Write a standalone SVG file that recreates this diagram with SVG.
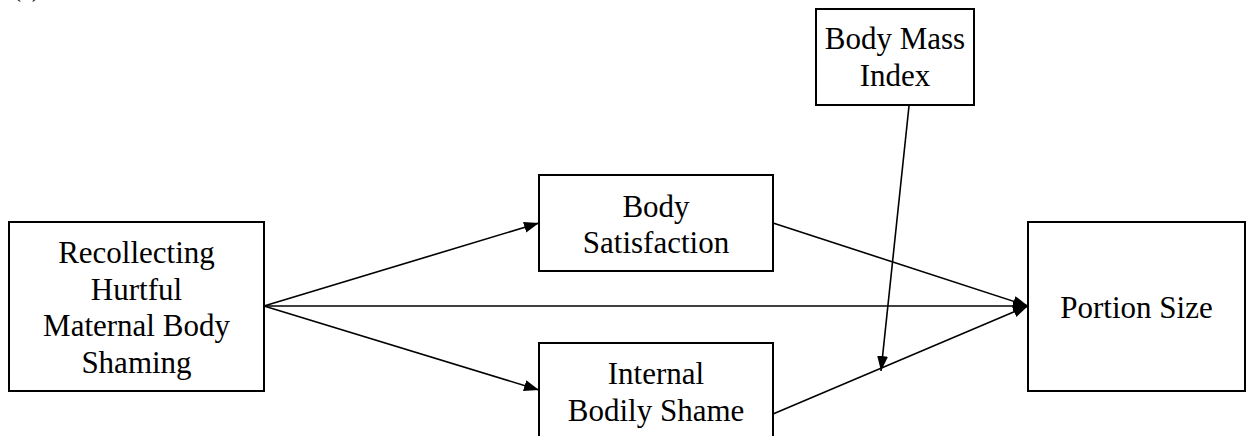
<svg xmlns="http://www.w3.org/2000/svg" width="1246" height="436" viewBox="0 0 1246 436">
<defs>
<marker id="ah" markerUnits="userSpaceOnUse" markerWidth="16" markerHeight="12" refX="15" refY="5.5" orient="auto">
<path d="M0,0 L15,5.5 L0,11 Z" fill="#000"/>
</marker>
<style>
.box{fill:#fff;stroke:#000;stroke-width:2}
.t{font-size:31px;fill:#000;text-anchor:middle}
.c{stroke:#000;stroke-width:1.6;fill:none;marker-end:url(#ah)}
</style>
</defs>
<rect width="1246" height="436" fill="#fff"/>
<g font-family="'Liberation Serif', 'Times New Roman', serif">
<text x="13" y="-3" font-size="24">(a)</text>
<g id="connectors">
<line class="c" x1="264" y1="306" x2="539" y2="223"/>
<line class="c" x1="264" y1="306" x2="539" y2="390"/>
<line class="c" x1="264" y1="306" x2="1028" y2="306"/>
<line class="c" x1="773" y1="223" x2="1028" y2="306"/>
<line class="c" x1="773" y1="414" x2="1028" y2="306"/>
<line class="c" x1="909" y1="106" x2="881" y2="371"/>
</g>
<g id="recollecting">
<rect class="box" x="9" y="222" width="255" height="169"/>
<text class="t" x="136.5" y="263">Recollecting</text>
<text class="t" x="136.5" y="299.5">Hurtful</text>
<text class="t" x="136.5" y="336">Maternal Body</text>
<text class="t" x="136.5" y="372.5">Shaming</text>
</g>
<g id="body-satisfaction">
<rect class="box" x="539" y="175" width="234" height="96"/>
<text class="t" x="656" y="216.5">Body</text>
<text class="t" x="656" y="252.5">Satisfaction</text>
</g>
<g id="internal-shame">
<rect class="box" x="539" y="343" width="234" height="100"/>
<text class="t" x="656" y="383.5">Internal</text>
<text class="t" x="656" y="420.5">Bodily Shame</text>
</g>
<g id="bmi">
<rect class="box" x="816" y="9" width="158" height="96"/>
<text class="t" x="895" y="49">Body Mass</text>
<text class="t" x="895" y="86">Index</text>
</g>
<g id="portion-size">
<rect class="box" x="1028" y="222" width="217" height="169"/>
<text class="t" x="1136.5" y="318">Portion Size</text>
</g>
</g>
</svg>
